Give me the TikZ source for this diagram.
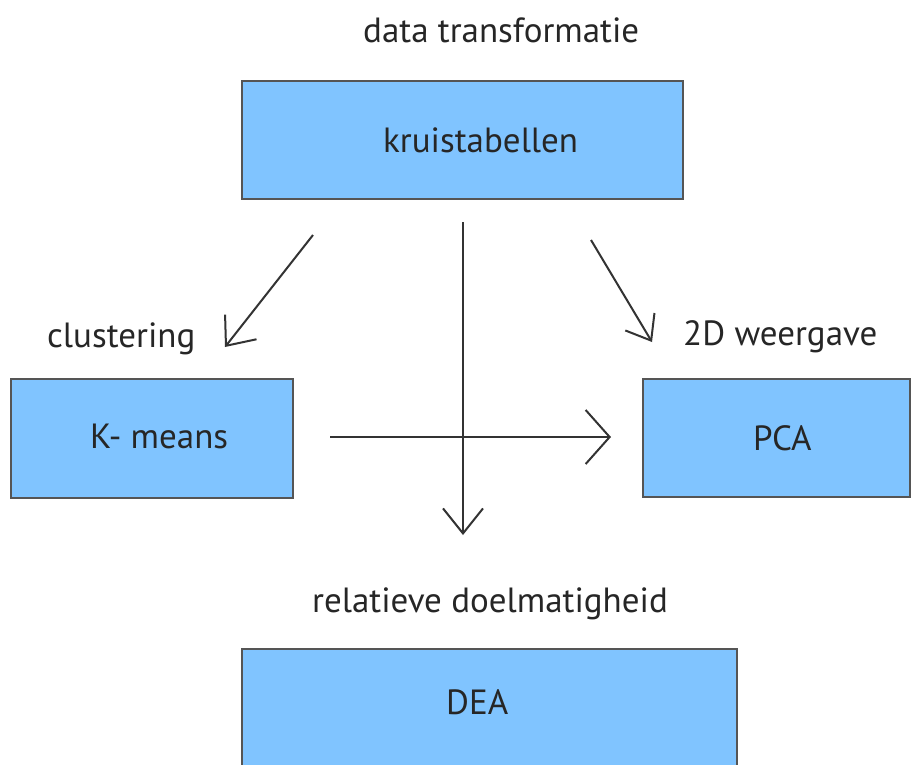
\documentclass[tikz,border=0pt]{standalone}
\usepackage{fontspec}
\setmainfont{PT Sans}
\usetikzlibrary{arrows.meta}
\definecolor{boxfill}{RGB}{128,196,255}
\definecolor{boxline}{RGB}{85,85,85}
\definecolor{arrowline}{RGB}{51,51,51}
\begin{document}
\begin{tikzpicture}[x=1pt,y=-1pt,
  box/.style={draw=boxline,line width=1.5pt,fill=boxfill,inner sep=0pt},
  txt/.style={anchor=base west,inner sep=0pt,text=black!85,font=\fontsize{35}{41}\selectfont},
  link/.style={draw=arrowline,line width=2pt}]
\useasboundingbox (0,0) rectangle (912,764);
\fill[white] (0,0) rectangle (912,764);

% boxes
\node[box,minimum width=441pt,minimum height=118pt] (kruis) at (462.5,140) {};
\node[box,minimum width=282pt,minimum height=119pt] (kmeans) at (152,438.5) {};
\node[box,minimum width=267pt,minimum height=118pt] (pca) at (776.5,438) {};
\node[box,minimum width=495pt,minimum height=130pt] (dea) at (489.5,714) {};

% labels inside boxes
\node[txt] (kruistxt) at (383,152) {kruistabellen};
\node[txt] (kmeanstxt) at (90,448) {K- means};
\node[txt] (pcatxt) at (753,450) {PCA};
\node[txt] (deatxt) at (446,714) {DEA};

% captions
\node[txt] (cap1) at (363,42) {data transformatie};
\node[txt] (cap2) at (47,347) {clustering};
\node[txt] (cap3) at (683,345) {2D weergave};
\node[txt] (cap4) at (312,612) {relatieve doelmatigheid};

% connector end points
\coordinate (a1s) at (313,235); \coordinate (a1e) at (225,347);
\coordinate (a2s) at (591,240); \coordinate (a2e) at (652,342);
\coordinate (a3s) at (463,222); \coordinate (a3e) at (463,535);
\coordinate (a4s) at (330,437); \coordinate (a4e) at (611,437);

\draw[link,-{Straight Barb[length=24pt,width=40pt]}] (a1s) -- (a1e);
\draw[link,-{Straight Barb[length=22pt,width=34pt]}] (a2s) -- (a2e);
\draw[link,-{Straight Barb[length=25pt,width=40pt]}] (a3s) -- (a3e);
\draw[link,-{Straight Barb[length=24pt,width=54pt]}] (a4s) -- (a4e);
\end{tikzpicture}
\end{document}
